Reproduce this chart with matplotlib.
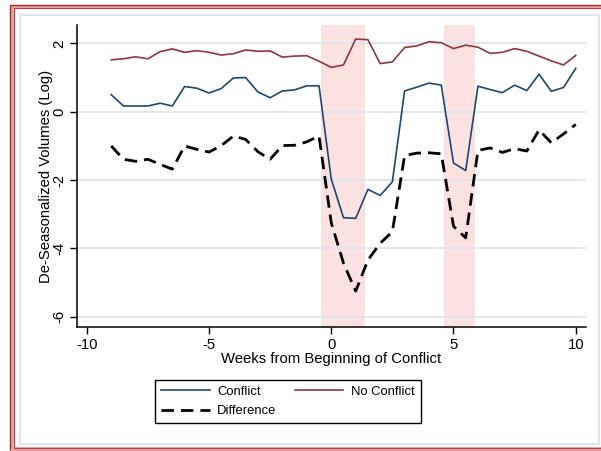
import matplotlib
matplotlib.use("Agg")
import matplotlib.pyplot as plt
from matplotlib.lines import Line2D
from matplotlib.patches import Rectangle

# weeks relative to conflict start (half-week steps)
weeks = [-9.0, -8.5, -8.0, -7.5, -7.0, -6.5, -6.0, -5.5, -5.0,
         -4.5, -4.0, -3.5, -3.0, -2.5, -2.0, -1.5, -1.0, -0.5,
         0.0, 0.5, 1.0, 1.5, 2.0, 2.5, 3.0, 3.5, 4.0, 4.5,
         5.0, 5.5, 6.0, 6.5, 7.0, 7.5, 8.0, 8.5, 9.0, 9.5, 10.0]

conflict = [0.50, 0.17, 0.17, 0.17, 0.25, 0.17, 0.74, 0.69, 0.55,
            0.68, 0.99, 1.00, 0.58, 0.41, 0.61, 0.64, 0.76, 0.76,
            -1.97, -3.10, -3.12, -2.27, -2.45, -2.05, 0.61, 0.72, 0.84, 0.78,
            -1.50, -1.72, 0.75, 0.65, 0.56, 0.78, 0.62, 1.10, 0.60, 0.71, 1.27]

no_conflict = [1.52, 1.55, 1.61, 1.55, 1.76, 1.84, 1.74, 1.79, 1.74,
               1.66, 1.70, 1.81, 1.77, 1.78, 1.60, 1.63, 1.64, 1.48,
               1.30, 1.37, 2.13, 2.11, 1.41, 1.46, 1.88, 1.93, 2.05, 2.02,
               1.85, 1.95, 1.89, 1.71, 1.74, 1.85, 1.77, 1.63, 1.49, 1.37, 1.65]

difference = [-1.00, -1.39, -1.45, -1.39, -1.54, -1.68, -1.00, -1.10, -1.18,
              -0.99, -0.71, -0.81, -1.17, -1.39, -0.99, -0.98, -0.88, -0.71,
              -3.25, -4.43, -5.25, -4.34, -3.85, -3.51, -1.28, -1.21, -1.20, -1.23,
              -3.35, -3.69, -1.13, -1.06, -1.19, -1.08, -1.15, -0.53, -0.91, -0.65, -0.37]

# conflict periods shaded in pink
shade_start = [-0.4, 4.6]
shade_end = [1.4, 5.9]

x_ticks = [-10, -5, 0, 5, 10]
y_ticks = [-6, -4, -2, 0, 2]

NAVY = "#1a476f"
MAROON = "#90353b"
GRID = "#dfe4ee"
SHADE = "#fce1e1"
FS = 10.7
LEG_FS = 9.4
DASH = (4.5, 2.5)

plt.rcParams["font.family"] = ["Liberation Sans", "DejaVu Sans"]
plt.rcParams["font.size"] = FS
plt.rcParams["axes.unicode_minus"] = False

W, H = 601, 451
fig = plt.figure(figsize=(W / 100, H / 100), dpi=100)


def px_rect(x0, y0, x1, y1, **kw):
    # rectangle given in image pixel coords (origin top-left)
    return Rectangle((x0 / W, 1 - y1 / H), (x1 - x0) / W, (y1 - y0) / H,
                     transform=fig.transFigure, fill=False, **kw)


# outer double red frame and inner light frame
fig.patches.append(px_rect(12, 6.5, 620, 449, edgecolor="#e8a8a8", linewidth=3))
fig.patches.append(px_rect(10.5, 5, 620, 451, edgecolor="#a52a2a", linewidth=1))
fig.patches.append(px_rect(14, 8, 620, 448, edgecolor="#b84040", linewidth=0.8))
fig.patches.append(px_rect(19.5, 14.5, 599, 443.5, edgecolor=GRID, linewidth=1.5))

ax = fig.add_axes([77 / W, 1 - 327 / H, (586 - 77) / W, (327 - 25) / H])
ax.set_xlim(-10.4, 10.42)
ax.set_ylim(-6.3, 2.54)

for start, end in zip(shade_start, shade_end):
    ax.axvspan(start, end, color=SHADE, linewidth=0, zorder=0)

ax.set_yticks(y_ticks)
ax.set_xticks(x_ticks)
ax.grid(axis="y", color=GRID, linewidth=1.3, zorder=0.5)
ax.set_axisbelow(True)

ax.plot(weeks, conflict, color=NAVY, linewidth=1.2, zorder=3)
ax.plot(weeks, no_conflict, color=MAROON, linewidth=1.2, zorder=3)
ax.plot(weeks, difference, color="black", linewidth=2.0,
        dashes=DASH, zorder=3)

for side in ("top", "right"):
    ax.spines[side].set_visible(False)
for side in ("left", "bottom"):
    ax.spines[side].set_linewidth(1.1)
ax.tick_params(direction="out", length=5, width=1, labelsize=FS, pad=3)
plt.setp(ax.get_yticklabels(), rotation=90, va="center")

ax.set_xlabel("Weeks from Beginning of Conflict", fontsize=FS, labelpad=0)
ax.set_ylabel("De-Seasonalized Volumes (Log)", fontsize=FS, labelpad=-1)

handles = [
    Line2D([], [], color=NAVY, linewidth=1.2),
    Line2D([], [], color="black", linewidth=2.0, dashes=DASH),
    Line2D([], [], color=MAROON, linewidth=1.2),
]
labels = ["Conflict", "Difference", "No Conflict"]
leg = fig.legend(handles, labels, ncol=2, loc="center",
                 bbox_to_anchor=(288 / W, 1 - 401.5 / H),
                 fancybox=False, edgecolor="black", framealpha=1,
                 handlelength=3.7, handletextpad=0.6, columnspacing=1.4,
                 labelspacing=0.55, borderpad=0.45, fontsize=LEG_FS)
leg.get_frame().set_linewidth(1.0)

fig.savefig("out.png", dpi=100)
